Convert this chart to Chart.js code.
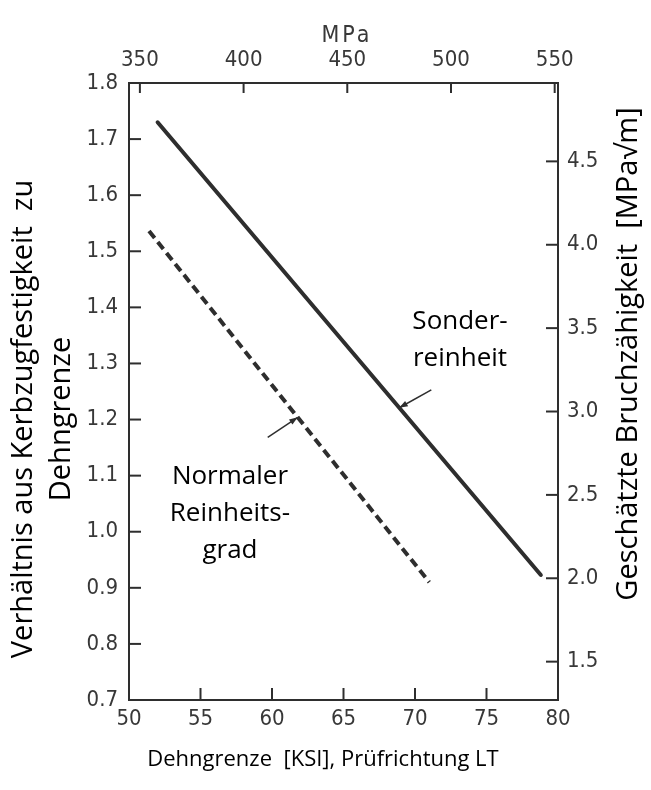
<!DOCTYPE html>
<html lang="de">
<head>
<meta charset="utf-8">
<title>Kerbzugfestigkeit / Dehngrenze</title>
<script src="https://cdn.jsdelivr.net/npm/chart.js@4.4.1/dist/chart.umd.min.js"></script>
<style>
    html, body { margin: 0; padding: 0; background: #fff; }
    #wrap { width: 651px; height: 790px; }
</style>
</head>
<body>
<div id="wrap"><canvas id="chart" width="651" height="790"></canvas></div>
<script>
// axis ticks
const ksiTicks = [50, 55, 60, 65, 70, 75, 80];
const mpaTicks = [350, 400, 450, 500, 550];
const ratioTicks = [0.7, 0.8, 0.9, 1.0, 1.1, 1.2, 1.3, 1.4, 1.5, 1.6, 1.7, 1.8];
const kicTicks = [1.5, 2.0, 2.5, 3.0, 3.5, 4.0, 4.5];

// Sonderreinheit (solid)
const sonderKsi = [52.0, 78.8];
const sonderRatio = [1.73, 0.923];
// Normaler Reinheitsgrad (dashed)
const normalKsi = [51.4, 71.0];
const normalRatio = [1.536, 0.91];

const KSI_TO_MPA = 6.895;
const INK = "#2e2e2e";
const tickFont = { family: '"DejaVu Sans Condensed", "Liberation Sans Narrow", sans-serif', size: 22 };
const textFont = '"Open Sans", "Noto Sans", sans-serif';

const toPoints = (xs, ys) => xs.map((x, i) => ({ x, y: ys[i] }));
const fixTicks = (list) => (scale) => {
    scale.ticks = list.map((v) => ({ value: v }));
};

function axis(position, min, max, list, size, padding, fmt) {
    return {
        type: "linear",
        position,
        axis: position === "top" || position === "bottom" ? "x" : "y",
        min,
        max,
        afterBuildTicks: fixTicks(list),
        afterFit: (s) => {
            if (s.isHorizontal()) s.height = size;
            else s.width = size;
        },
        grid: { display: false, drawTicks: false },
        border: { display: true, color: INK, width: 2 },
        ticks: {
            font: tickFont,
            color: "#383838",
            padding,
            autoSkip: false,
            maxRotation: 0,
            callback: fmt,
        },
    };
}

// inner tick marks, taken from each scale
const innerTicks = {
    id: "innerTicks",
    afterDatasetsDraw(chart) {
        const { ctx, chartArea: a } = chart;
        ctx.save();
        ctx.strokeStyle = INK;
        ctx.lineWidth = 2;
        for (const s of Object.values(chart.scales)) {
            const len = s.position === "top" ? 10 : 12;
            for (const t of s.ticks) {
                const p = s.getPixelForValue(t.value);
                ctx.beginPath();
                if (s.position === "left") { ctx.moveTo(a.left, p); ctx.lineTo(a.left + len, p); }
                if (s.position === "right") { ctx.moveTo(a.right, p); ctx.lineTo(a.right - len, p); }
                if (s.position === "bottom") { ctx.moveTo(p, a.bottom); ctx.lineTo(p, a.bottom - len); }
                if (s.position === "top") { ctx.moveTo(p, a.top); ctx.lineTo(p, a.top + len); }
                ctx.stroke();
            }
        }
        ctx.restore();
    },
};

// labels + arrows in data coordinates
const notes = [
    { lines: ["Sonder-", "reinheit"], at: [73.15, 1.374], tip: [68.9, 1.221], tail: [71.14, 1.253] },
    { lines: ["Normaler", "Reinheits-", "grad"], at: [57.06, 1.098], tip: [61.8, 1.204], tail: [59.7, 1.168] },
];

const annotations = {
    id: "annotations",
    afterDraw(chart) {
        const { ctx } = chart;
        const sx = chart.scales.x, sy = chart.scales.y;
        ctx.save();
        ctx.fillStyle = "#000";
        ctx.font = `26px ${textFont}`;
        ctx.textAlign = "center";
        ctx.textBaseline = "middle";
        for (const n of notes) {
            const x = sx.getPixelForValue(n.at[0]);
            const y = sy.getPixelForValue(n.at[1]);
            n.lines.forEach((l, i) => ctx.fillText(l, x, y + i * 37));

            const x1 = sx.getPixelForValue(n.tail[0]), y1 = sy.getPixelForValue(n.tail[1]);
            const x2 = sx.getPixelForValue(n.tip[0]), y2 = sy.getPixelForValue(n.tip[1]);
            const ang = Math.atan2(y2 - y1, x2 - x1);
            ctx.strokeStyle = INK;
            ctx.fillStyle = INK;
            ctx.lineWidth = 1.5;
            ctx.beginPath();
            ctx.moveTo(x1, y1);
            ctx.lineTo(x2, y2);
            ctx.stroke();
            ctx.beginPath();
            ctx.moveTo(x2, y2);
            ctx.lineTo(x2 - 9 * Math.cos(ang - 0.35), y2 - 9 * Math.sin(ang - 0.35));
            ctx.lineTo(x2 - 9 * Math.cos(ang + 0.35), y2 - 9 * Math.sin(ang + 0.35));
            ctx.closePath();
            ctx.fill();
            ctx.fillStyle = "#000";
        }

        // axis titles
        ctx.font = `22px ${textFont}`;
        ctx.fillText("Dehngrenze  [KSI], Prüfrichtung LT", 323, 760);

        ctx.font = `29px ${textFont}`;
        ctx.save();
        ctx.translate(24, 419);
        ctx.rotate(-Math.PI / 2);
        ctx.fillText("Verhältnis aus Kerbzugfestigkeit  zu", 0, 0);
        ctx.fillText("Dehngrenze", 0, 38);
        ctx.restore();

        ctx.save();
        ctx.translate(629, 354);
        ctx.rotate(-Math.PI / 2);
        ctx.fillText("Geschätzte Bruchzähigkeit  [MPa√m]", 0, 0);
        ctx.restore();

        ctx.fillStyle = "#383838";
        ctx.font = `23px ${tickFont.family}`;
        ctx.letterSpacing = "3px";
        ctx.fillText("MPa", 347, 36);
        ctx.restore();
    },
};

new Chart(document.getElementById("chart"), {
    type: "line",
    data: {
        datasets: [
            {
                label: "Sonderreinheit",
                data: toPoints(sonderKsi, sonderRatio),
                borderColor: INK,
                borderWidth: 4,
                pointRadius: 0,
                borderCapStyle: "round",
                xAxisID: "x",
                yAxisID: "y",
            },
            {
                label: "Normaler Reinheitsgrad",
                data: toPoints(normalKsi, normalRatio),
                borderColor: INK,
                borderWidth: 4,
                borderDash: [9, 5],
                pointRadius: 0,
                xAxisID: "x",
                yAxisID: "y",
            },
        ],
    },
    options: {
        responsive: false,
        animation: false,
        layout: { padding: 0 },
        scales: {
            x: axis("bottom", 50, 80, ksiTicks, 90, 6),
            x2: axis("top", 50 * KSI_TO_MPA, 80 * KSI_TO_MPA, mpaTicks, 83, 10),
            y: axis("left", 0.7, 1.8, ratioTicks, 129, 11, (v) => v.toFixed(1)),
            y1: axis("right", 1.27, 4.97, kicTicks, 93, 9, (v) => v.toFixed(1)),
        },
        plugins: {
            legend: { display: false },
            tooltip: { enabled: false },
        },
    },
    plugins: [innerTicks, annotations],
});
</script>
</body>
</html>
